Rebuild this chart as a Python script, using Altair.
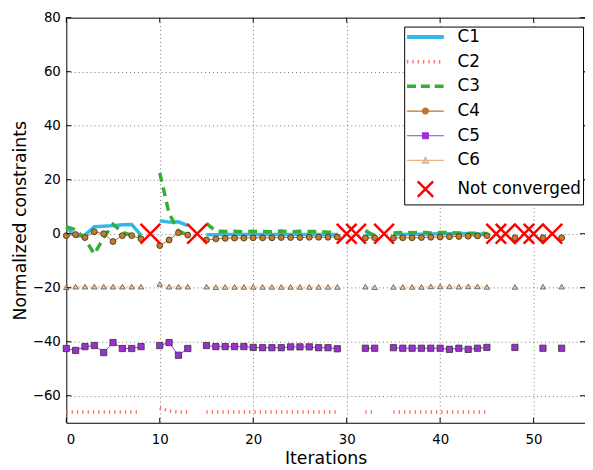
import altair as alt
import pandas as pd

N = None
iterations = list(range(54))
not_converged = [9, 14, 30, 31, 34, 46, 47, 49, 50, 52]
nc_y = [0] * len(not_converged)

c1 = [2.5, -1.0, -0.5, 2.6, 2.8, 3.0, 3.3, 3.4, -0.5, N,
      4.8, 4.3, 4.4, 3.0, N,
      -0.4, -0.4, -0.3, -0.3, -0.3, -0.3, -0.3, -0.3, -0.3, -0.3, -0.3, -0.3, -0.3, -0.3, -0.3,
      N, N, -0.3, -0.3, N,
      -0.3, -0.3, -0.2, -0.2, -0.1, 0.0, 0.0, 0.1, 0.0, -0.1, -0.2,
      N, N, -0.3, N, N, -0.3, N, -0.3]
c2 = [-66.0, -66.0, -66.0, -66.0, -66.0, -66.0, -66.0, -66.0, -66.0, N,
      -64.5, -65.6, -66.0, -66.0, N,
      -66.0, -66.0, -66.0, -66.0, -66.0, -66.0, -66.0, -66.0, -66.0, -66.0, -66.0, -66.0, -66.0, -66.0, -66.0,
      N, N, -66.0, -66.0, N,
      -66.0, -66.0, -66.0, -66.0, -66.0, -66.0, -66.0, -66.0, -66.0, -66.0, -66.0,
      N, N, -66.0, N, N, -66.0, N, -66.0]
c3 = [2.5, 1.5, -2.0, -7.5, -1.5, 3.5, 0.5, -0.5, -1.0, N,
      22.5, 7.5, 1.0, -0.5, N,
      3.8, 1.0, 0.8, 0.9, 0.7, 0.9, 0.8, 0.7, 1.0, 0.7, 0.9, 0.8, 0.8, 0.6, 0.5,
      N, N, 1.2, -0.8, N,
      0.3, 0.5, 0.4, 0.6, 0.3, 0.5, 0.4, 0.3, 0.2, 0.2, 0.1,
      N, N, 0.0, N, N, 0.0, N, 0.0]
c4 = [-0.7, -0.3, -1.4, 0.7, 0.0, -2.9, -0.7, -0.7, -1.9, N,
      -4.4, -2.3, 0.4, -0.5, N,
      -2.3, -1.9, -1.7, -1.6, -1.6, -1.5, -1.5, -1.5, -1.4, -1.4, -1.4, -1.3, -1.3, -1.3, -1.2,
      N, N, -1.6, -1.5, N,
      -1.6, -1.5, -1.5, -1.4, -1.3, -1.2, -1.1, -1.0, -0.9, -0.8, -0.7,
      N, N, -1.5, N, N, -1.5, N, -1.5]
c5 = [-42.5, -43.2, -41.8, -41.4, -44.0, -40.3, -42.5, -42.5, -41.8, N,
      -41.4, -40.3, -45.0, -42.5, N,
      -41.4, -41.8, -41.8, -41.8, -41.8, -42.1, -42.2, -42.2, -42.2, -41.9, -41.9, -41.9, -42.2, -42.2, -42.6,
      N, N, -42.4, -42.4, N,
      -42.2, -42.4, -42.4, -42.4, -42.4, -42.4, -42.8, -42.4, -42.8, -42.4, -42.1,
      N, N, -42.1, N, N, -42.4, N, -42.4]
c6 = [-19.8, -19.6, -19.6, -19.6, -19.6, -19.6, -19.6, -19.6, -19.6, N,
      -18.6, -19.6, -19.6, -19.6, N,
      -19.6, -19.8, -19.7, -19.7, -19.7, -19.7, -19.7, -19.7, -19.7, -19.7, -19.7, -19.7, -19.7, -19.7, -19.7,
      N, N, -19.6, -19.8, N,
      -19.7, -19.7, -19.7, -19.7, -19.5, -19.5, -19.5, -19.6, -19.5, -19.5, -19.7,
      N, N, -19.7, N, N, -19.6, N, -19.6]

xticks = [0, 10, 20, 30, 40, 50]
yticks = [-60, -40, -20, 0, 20, 40, 60, 80]
series_names = ["C1", "C2", "C3", "C4", "C5", "C6", "Not converged"]

rows = []
for name, vals in [("C1", c1), ("C2", c2), ("C3", c3), ("C4", c4), ("C5", c5), ("C6", c6)]:
    seg = 0
    for it, v in zip(iterations, vals):
        if v is None:
            seg += 1
            continue
        rows.append({"x": it, "y": v, "series": name, "seg": seg})
df = pd.DataFrame(rows)
nc_df = pd.DataFrame({"x": not_converged, "y": nc_y})
xt_df = pd.DataFrame({"x": xticks})
yt_df = pd.DataFrame({"y": yticks})
legend_df = pd.DataFrame({"series": series_names})

W, H = 525, 410
FONT = "DejaVu Sans"
X_PATH = "M-1,-1L1,1M-1,1L1,-1"

x_axis = alt.Axis(values=xticks, format="d", title="Iterations", grid=True,
                  gridColor="#777", gridDash=[1, 3], ticks=False, domain=False,
                  labelFontSize=13.5, labelPadding=10, labelColor="black", labelFont=FONT,
                  titleFontSize=17.5, titleFontWeight="normal", titleColor="black",
                  titleFont=FONT, titleY=27)
y_axis = alt.Axis(values=yticks, format="d", title="Normalized constraints", grid=True,
                  gridColor="#777", gridDash=[1, 3], ticks=False, domain=False,
                  labelFontSize=13.5, labelPadding=6, labelColor="black", labelFont=FONT,
                  titleFontSize=17.5, titleFontWeight="normal", titleColor="black",
                  titleFont=FONT, titleX=-37)
x_enc = alt.X("x:Q", scale=alt.Scale(domain=[0, 55.5], nice=False, zero=False), axis=x_axis)
y_enc = alt.Y("y:Q", scale=alt.Scale(domain=[-70, 80], nice=False, zero=False), axis=y_axis)

base = alt.Chart(df).encode(x=x_enc, y=y_enc)


def sel(name):
    return alt.datum.series == name


l_c1 = base.mark_line(color="#33b8e8", strokeWidth=3.5).encode(detail="seg:N").transform_filter(sel("C1"))
l_c2 = base.mark_line(color="#ff5a5a", strokeWidth=3.5, strokeDash=[1.2, 4.2]).encode(detail="seg:N").transform_filter(sel("C2"))
l_c3 = base.mark_line(color="#33b033", strokeWidth=3.5, strokeDash=[9, 6]).encode(detail="seg:N").transform_filter(sel("C3"))
l_c4 = base.mark_line(color="#b8742a", strokeWidth=1).encode(detail="seg:N").transform_filter(sel("C4"))
p_c4 = base.mark_point(shape="circle", size=36, filled=True, fill="#bf7d30", stroke="#3a2a10", strokeWidth=0.8, opacity=1).transform_filter(sel("C4"))
l_c5 = base.mark_line(color="#a035e0", strokeWidth=1).encode(detail="seg:N").transform_filter(sel("C5"))
p_c5 = base.mark_point(shape="square", size=40, filled=True, fill="#9a30d0", stroke="#333333", strokeWidth=0.8, opacity=1).transform_filter(sel("C5"))
l_c6 = base.mark_line(color="#fcd9bc", strokeWidth=1).encode(detail="seg:N").transform_filter(sel("C6"))
p_c6 = base.mark_point(shape="triangle-up", size=30, filled=True, fill="#efc7a2", stroke="#555555", strokeWidth=0.8, opacity=1).transform_filter(sel("C6"))

nc = alt.Chart(nc_df).mark_point(shape=X_PATH, size=400, filled=False, stroke="#ff0000",
                                  strokeWidth=2.5, opacity=1).encode(x=x_enc, y=y_enc)

tick_b = alt.Chart(xt_df).mark_rule(color="black", strokeWidth=1).encode(x=x_enc, y=alt.value(H), y2=alt.value(H - 5))
tick_t = alt.Chart(xt_df).mark_rule(color="black", strokeWidth=1).encode(x=x_enc, y=alt.value(0), y2=alt.value(5))
tick_l = alt.Chart(yt_df).mark_rule(color="black", strokeWidth=1).encode(y=y_enc, x=alt.value(0), x2=alt.value(5))
tick_r = alt.Chart(yt_df).mark_rule(color="black", strokeWidth=1).encode(y=y_enc, x=alt.value(W), x2=alt.value(W - 5))

leg_paths = [
    "M-3.1,0H3.1",
    "M-3.1,0H3.1",
    "M-3.1,0H3.1",
    "M-3.1,0H3.1M0.5,0A0.5,0.5 0 1 1 -0.5,0A0.5,0.5 0 1 1 0.5,0",
    "M-3.1,0H3.1M-0.5,-0.5H0.5V0.5H-0.5Z",
    "M-3.1,0H3.1M0,-0.55L0.55,0.45H-0.55Z",
    "M-1.3,-1.3L1.3,1.3M-1.3,1.3L1.3,-1.3",
]
leg_strokes = ["#33b8e8", "#ff5a5a", "#33b033", "#b8742a", "#a035e0", "#e8b48a", "#ff0000"]
leg_fills = ["transparent", "transparent", "transparent", "#bf7d30", "#9a30d0", "#efc7a2", "transparent"]
leg_dashes = [[1, 0], [1.2, 4.2], [9, 5], [1, 0], [1, 0], [1, 0], [1, 0]]
leg_widths = [4, 3.5, 3.5, 1.2, 1.2, 1.2, 2.5]

dummy = alt.Chart(legend_df).mark_point().encode(
    stroke=alt.Stroke("series:N", scale=alt.Scale(domain=series_names, range=leg_strokes), legend=alt.Legend(title=None)),
    fill=alt.Fill("series:N", scale=alt.Scale(domain=series_names, range=leg_fills), legend=alt.Legend(title=None)),
    shape=alt.Shape("series:N", scale=alt.Scale(domain=series_names, range=leg_paths), legend=alt.Legend(title=None)),
    strokeDash=alt.StrokeDash("series:N", scale=alt.Scale(domain=series_names, range=leg_dashes), legend=alt.Legend(title=None)),
    strokeWidth=alt.StrokeWidth("series:N", scale=alt.Scale(type="ordinal", domain=series_names, range=leg_widths), legend=alt.Legend(title=None)),
).transform_filter("false")

chart = alt.layer(
    l_c1, l_c2, l_c3, l_c4, p_c4, l_c5, p_c5, l_c6, p_c6, nc,
    tick_b, tick_t, tick_l, tick_r, dummy
).properties(
    width=W, height=H,
    padding={"left": 59, "top": 7, "right": 0, "bottom": 45},
    autosize=alt.AutoSizeParams(type="none"),
).configure(font=FONT).configure_view(
    stroke="black", strokeWidth=1
).configure_legend(
    orient="none", legendX=342, legendY=9,
    fillColor="white", strokeColor="black", padding=2, cornerRadius=0,
    labelFont=FONT, labelFontSize=17, labelColor="black", labelLimit=400,
    symbolSize=144, symbolOffset=11, labelOffset=24, rowPadding=7,
    symbolOpacity=1, symbolFillColor="transparent", symbolStrokeColor="transparent",
)

chart.save("out.html", embed_options={"renderer": "svg", "actions": False})
